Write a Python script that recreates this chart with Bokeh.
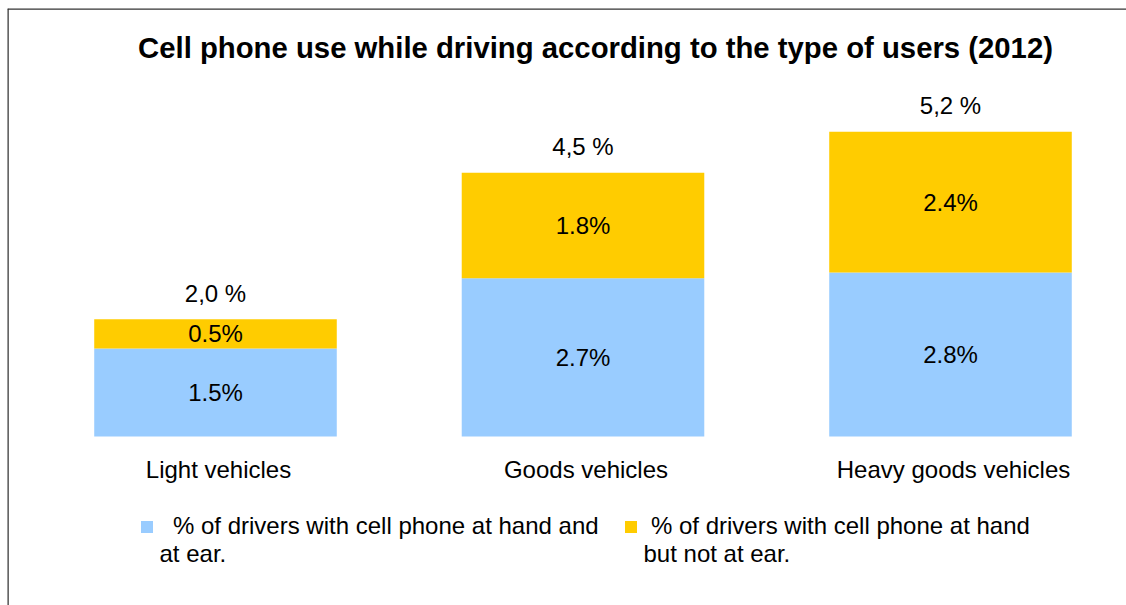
from bokeh.plotting import figure
from bokeh.models import (ColumnDataSource, Range1d, LabelSet, Label, Legend, LegendItem, Span)
from bokeh.core.properties import value
from bokeh.embed import file_html
from bokeh.resources import INLINE

categories = ["Light vehicles", "Goods vehicles", "Heavy goods vehicles"]
at_ear = [1.5, 2.7, 2.8]
not_at_ear = [0.5, 1.8, 2.4]
totals = [2.0, 4.5, 5.2]
series_names = ["% of drivers with cell phone at hand and", "% of drivers with cell phone at hand"]
series_second_lines = ["at ear.", "but not at ear."]
title_text = "Cell phone use while driving according to the type of users (2012)"

FONT = "Liberation Sans"
BLUE = "#99CCFF"
YELLOW = "#FFCC00"
FS = "24px"

idx = list(range(len(categories)))
src = ColumnDataSource(dict(
    x=idx,
    cat=categories,
    ear=at_ear,
    notear=not_at_ear,
    top2=[a + b for a, b in zip(at_ear, not_at_ear)],
    mid1=[a / 2 for a in at_ear],
    mid2=[a + b / 2 for a, b in zip(at_ear, not_at_ear)],
    lab1=[f"{a:.1f}%" for a in at_ear],
    lab2=[f"{b:.1f}%" for b in not_at_ear],
    tot=totals,
    totlab=[f"{t:.1f} %".replace(".", ",") for t in totals],
))

W, H = 1126, 605
left_b, top_b = 7, 8
px_per_cat = 367.5
px_per_unit = 58.6
x0_px = 215
base_px = 436
fw = W - left_b
fh = H - top_b
xs = -(x0_px - left_b) / px_per_cat
ye = (base_px - top_b) / px_per_unit
ys = -(H - base_px) / px_per_unit

p = figure(width=W, height=H, output_backend="svg", toolbar_location=None,
           x_range=Range1d(xs, xs + fw / px_per_cat), y_range=Range1d(ys, ye),
           min_border_left=left_b, min_border_top=top_b, min_border_right=0, min_border_bottom=0)
p.axis.visible = False
p.grid.visible = False
p.outline_line_color = None
p.background_fill_color = "white"
p.border_fill_color = "white"

r1 = p.vbar(x="x", bottom=0, top="ear", width=0.66, source=src, fill_color=BLUE, line_color=None)
r2 = p.vbar(x="x", bottom="ear", top="top2", width=0.66, source=src, fill_color=YELLOW, line_color=None)


def lset(y, text, **kw):
    ls = LabelSet(x="x", y=y, text=text, source=src, text_align="center", text_baseline="middle",
                  text_font=value(FONT), text_font_size=FS, text_color="black", **kw)
    p.add_layout(ls)

lset("mid1", "lab1")
lset("mid2", "lab2")
lset("top2", "totlab", y_offset=26)

cat_ls = LabelSet(x="x", y=H - 469, y_units="screen", text="cat", source=src, text_align="center",
                  text_baseline="middle", text_font=value(FONT), text_font_size=FS,
                  text_color="black", x_offset=3)
p.add_layout(cat_ls)

title = Label(x=595 - left_b, y=H - 47, x_units="screen", y_units="screen", text=title_text,
              text_align="center", text_baseline="middle", text_font_size="29.3px",
              text_font_style="bold", text_color="black", text_font=FONT)
p.add_layout(title)

for item_r, name, xpx, standoff in [(r1, series_names[0], 139, 19), (r2, series_names[1], 623, 13)]:
    lg = Legend(items=[LegendItem(label=name, renderers=[item_r])],
                orientation="horizontal", location=(xpx - left_b, H - 540),
                glyph_width=15, glyph_height=15, label_standoff=standoff,
                label_text_font=FONT, label_text_font_size=FS, label_text_color="black",
                label_height=28, padding=0, margin=0, border_line_color=None,
                background_fill_alpha=0)
    p.add_layout(lg)

for xpx, t in [(159, series_second_lines[0]), (643, series_second_lines[1])]:
    lb = Label(x=xpx - left_b, y=H - 553, x_units="screen", y_units="screen", text=t,
               text_align="left", text_baseline="middle", text_font_size=FS, text_color="black",
               text_font=FONT)
    p.add_layout(lb)

p.add_layout(Span(location=xs, dimension="height", line_color="#333333", line_width=2.5))
p.add_layout(Span(location=ye, dimension="width", line_color="#333333", line_width=2.5))

open("out.html", "w").write(file_html(p, INLINE))
